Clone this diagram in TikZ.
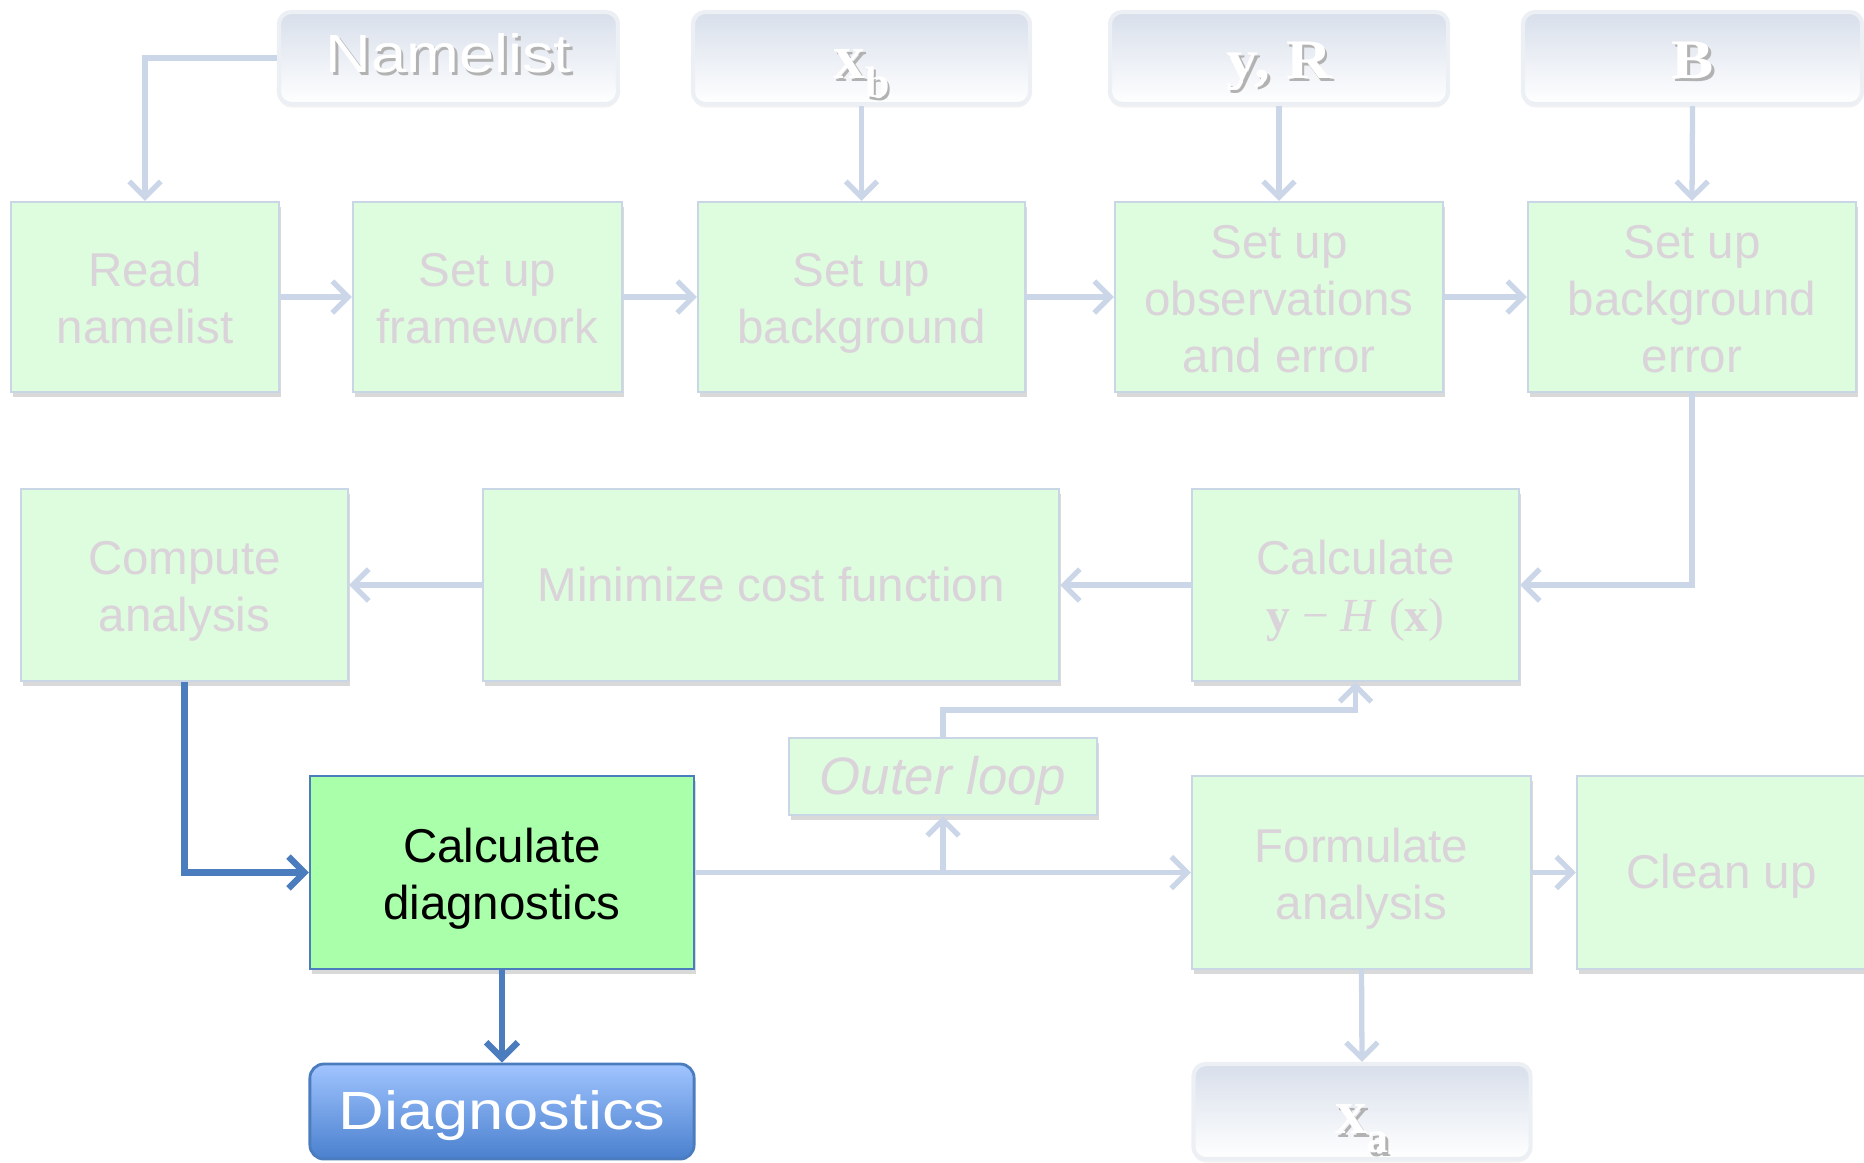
\documentclass[tikz,border=0pt]{standalone}
\usepackage{fontspec}
\usepackage{graphicx}
\setmainfont{Liberation Sans}
\newfontfamily\timesfont{Liberation Serif}
\usetikzlibrary{arrows.meta,shadows}

\definecolor{fadefill}{RGB}{222,252,222}
\definecolor{fadeline}{RGB}{200,214,230}
\definecolor{fadetext}{RGB}{218,211,218}
\definecolor{flowline}{RGB}{203,215,232}
\definecolor{livefill}{RGB}{170,255,170}
\definecolor{liveline}{RGB}{75,125,190}
\definecolor{diagtop}{RGB}{160,196,255}
\definecolor{diagbot}{RGB}{74,128,206}
\definecolor{intop}{RGB}{216,223,235}
\definecolor{inline}{RGB}{236,239,244}

% white lettering with a soft shadow, as on the input boxes
\newcommand{\emboss}[1]{\leavevmode\rlap{\kern0.8pt\raisebox{-1pt}{\textcolor{black!30}{#1}}}\textcolor{white}{#1}}
\newcommand{\bigserif}{\timesfont\bfseries\fontsize{18}{20}\selectfont}
\newcommand{\lowsub}[1]{\raisebox{-5.4pt}{\fontsize{12.5}{13}\selectfont #1}}
% line struts: the slide text sits a little below the middle of its box
\newcommand{\linestrut}{\rule[-0.212em]{0pt}{1.117em}}
\newcommand{\hs}{\rule{0pt}{0.985em}}
\newcommand{\tailstrut}{\rule[-0.212em]{0pt}{0.212em}}
\newcommand{\sunk}[2]{\raisebox{-#1}[0pt][0pt]{#2}}

\tikzset{
  stage/.style={draw=fadeline, line width=0.6pt, fill=fadefill, text=fadetext,
    font=\fontsize{13.5}{16.2}\selectfont, align=center, inner sep=0pt,
    execute at begin node=\linestrut, execute at end node=\tailstrut,
    drop shadow={shadow xshift=0.5pt, shadow yshift=-1.5pt, opacity=0.3}},
  live/.style={stage, draw=liveline, fill=livefill, text=black},
  inbox/.style={draw=inline, line width=1.2pt, rounded corners=3.5pt, top color=intop,
    bottom color=white, inner sep=0pt, minimum height=0.92cm,
    drop shadow={shadow xshift=0pt, shadow yshift=-1pt, opacity=0.1}},
  outbox/.style={draw=liveline, line width=0.8pt, rounded corners=4pt, top color=diagtop,
    bottom color=diagbot, text=white, inner sep=0pt, minimum height=0.95cm,
    font=\fontsize{18}{20}\selectfont},
  flow/.style={draw=flowline, line width=1.5pt, -{Straight Barb[length=4.5pt,width=9pt]}},
  liveflow/.style={flow, draw=liveline, line width=1.8pt},
}

\begin{document}
\begin{tikzpicture}[x=0.01cm,y=-0.01cm]
\useasboundingbox (0,0) rectangle (1864,1162);

% inputs
\node[inbox, minimum width=3.39cm] (nml) at (448.5,58)
  {\sunk{4pt}{\fontsize{18}{20}\selectfont\emboss{\scalebox{1}[0.85]{Namelist}}}};
\node[inbox, minimum width=3.37cm] (xb) at (861.5,58) {\sunk{5.7pt}{\bigserif\emboss{x\lowsub{b}}}};
\node[inbox, minimum width=3.38cm] (yR) at (1279,58) {\sunk{5.7pt}{\bigserif\emboss{\scalebox{1}[0.88]{y, R}}}};
\node[inbox, minimum width=3.39cm] (B) at (1692.5,58) {\sunk{5.7pt}{\bigserif\emboss{\scalebox{1}[0.88]{B}}}};

% set-up row
\node[stage, minimum width=2.68cm, minimum height=1.9cm] (read) at (145,297) {\hs Read\\namelist};
\node[stage, minimum width=2.69cm, minimum height=1.9cm] (frame) at (487.5,297) {\hs Set up\\framework};
\node[stage, minimum width=3.27cm, minimum height=1.9cm] (bkg) at (861.5,297) {\hs Set up\\background};
\node[stage, minimum width=3.28cm, minimum height=1.9cm] (obs) at (1279,297) {\hs Set up\\observations\\and error};
\node[stage, minimum width=3.28cm, minimum height=1.9cm] (berr) at (1692,297) {\hs Set up\\background\\error};

% minimization row
\node[stage, minimum width=3.27cm, minimum height=1.92cm] (comp) at (184.5,585) {\hs Compute\\analysis};
\node[stage, minimum width=5.76cm, minimum height=1.92cm] (mini) at (771,585) {Minimize cost function};
\node[stage, minimum width=3.27cm, minimum height=1.92cm] (calc) at (1355.5,585)
  {\hs Calculate\\{\timesfont\textbf{y} − \textit{H} (\textbf{x})}};
\node[stage, minimum width=3.08cm, minimum height=0.77cm, font=\fontsize{15}{17}\selectfont\itshape] (outer) at (943,776.5) {Outer loop};

% output row
\node[live, minimum width=3.84cm, minimum height=1.93cm] (cdiag) at (502,872.5) {\hs Calculate\\diagnostics};
\node[stage, minimum width=3.39cm, minimum height=1.93cm] (form) at (1361.5,872.5) {\hs Formulate\\analysis};
\node[stage, minimum width=2.89cm, minimum height=1.93cm] (clean) at (1721.5,872.5) {Clean up};
\node[outbox, minimum width=3.84cm] (diagn) at (502,1111.5) {\sunk{5pt}{\scalebox{1}[0.85]{Diagnostics}}};
\node[inbox, minimum width=3.37cm, minimum height=0.95cm] (xa) at (1362,1111.5) {\sunk{6.3pt}{\bigserif\emboss{x\lowsub{a}}}};

% connectors
\draw[flow] (nml.west) -| (read.north);
\draw[flow] (xb.south) -- (bkg.north);
\draw[flow] (yR.south) -- (obs.north);
\draw[flow] (B.south) -- (berr.north);
\draw[flow] (read.east) -- (frame.west);
\draw[flow] (frame.east) -- (bkg.west);
\draw[flow] (bkg.east) -- (obs.west);
\draw[flow] (obs.east) -- (berr.west);
\draw[flow] (berr.south) |- (calc.east);
\draw[flow] (calc.west) -- (mini.east);
\draw[flow] (mini.west) -- (comp.east);
\draw[liveflow] (comp.south) |- (cdiag.west);
\draw[liveflow] (cdiag.south) -- (diagn.north);
\draw[flow] (cdiag.east) -- (form.west);
\coordinate (split) at (outer.south |- cdiag.east);
\coordinate (loopturn) at (1355.5,710);
\draw[flow] (split) -- (outer.south);
\draw[flow] (outer.north) |- (loopturn) -- (calc.south);
\draw[flow] (form.east) -- (clean.west);
\draw[flow] (form.south) -- (xa.north);
\end{tikzpicture}
\end{document}
